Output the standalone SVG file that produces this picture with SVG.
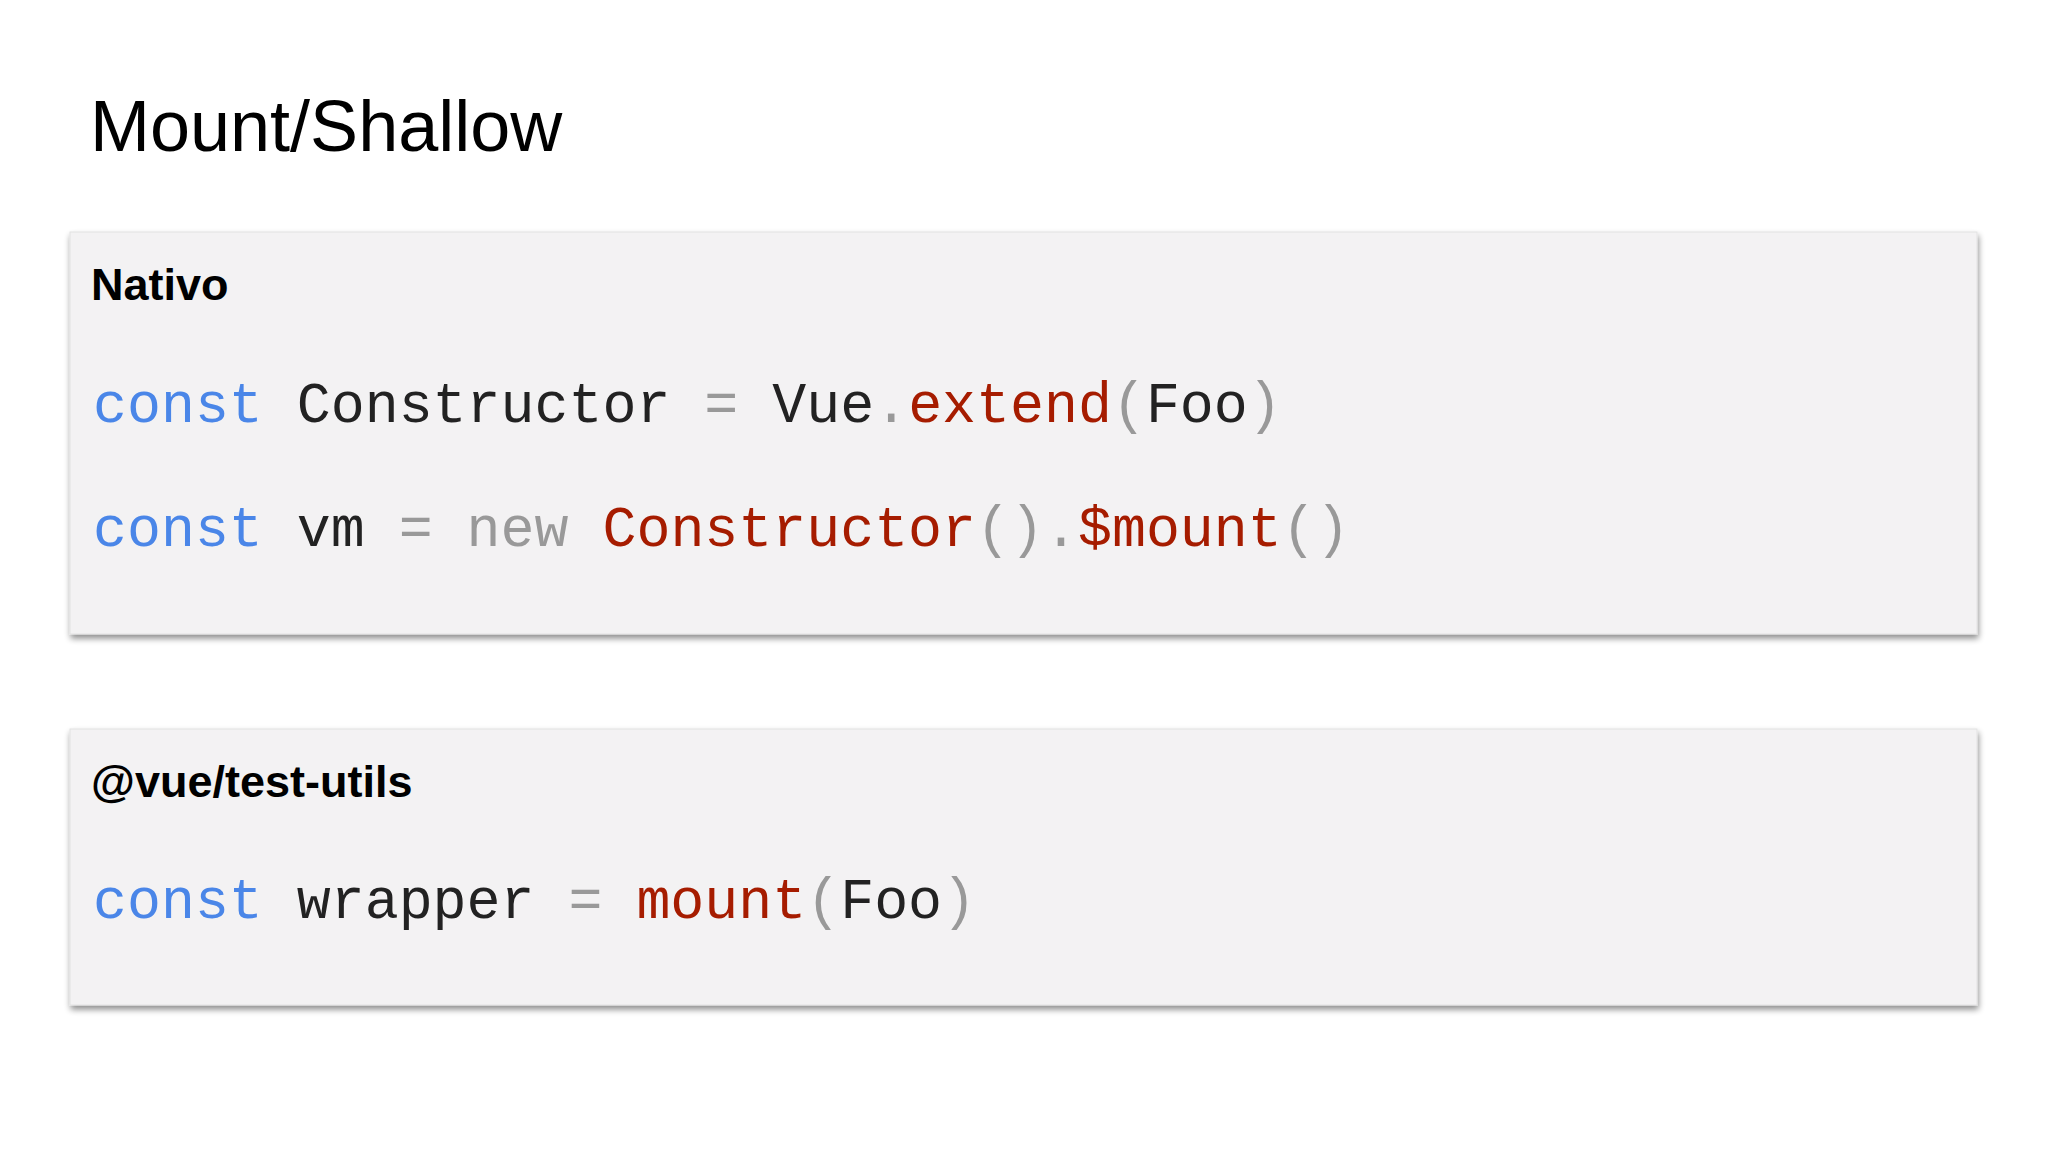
<svg xmlns="http://www.w3.org/2000/svg" width="2048" height="1152" viewBox="0 0 2048 1152">
<defs>
<filter id="sh" x="-5%" y="-5%" width="110%" height="115%">
<feGaussianBlur in="SourceAlpha" stdDeviation="3"/>
<feOffset dx="1" dy="4"/>
<feComponentTransfer><feFuncA type="linear" slope="0.45"/></feComponentTransfer>
<feMerge><feMergeNode/><feMergeNode in="SourceGraphic"/></feMerge>
</filter>
</defs>
<style>
.box{fill:#f3f2f3;stroke:#e2e2e2;stroke-width:1}
.lbl{font-family:"Liberation Sans",Arial,sans-serif;font-weight:bold;font-size:45px;fill:#000}
.code{font-family:"Liberation Mono","Courier New",monospace;font-size:56.6px;fill:#222}
.k{fill:#4a86e8}.g{fill:#999}.r{fill:#a61c00}
</style>
<rect width="2048" height="1152" fill="#fff"/>
<text x="90" y="151" font-family="Liberation Sans,Arial,sans-serif" font-size="72" fill="#000">Mount/Shallow</text>
<g id="nativo">
<rect class="box" x="70" y="232" width="1907" height="402" filter="url(#sh)"/>
<text class="lbl" x="91" y="300">Nativo</text>
<text class="code" x="93" y="422" xml:space="preserve"><tspan class="k">const</tspan> Constructor <tspan class="g">=</tspan> Vue<tspan class="g">.</tspan><tspan class="r">extend</tspan><tspan class="g">(</tspan>Foo<tspan class="g">)</tspan></text>
<text class="code" x="93" y="546" xml:space="preserve"><tspan class="k">const</tspan> vm <tspan class="g">=</tspan> <tspan class="g">new</tspan> <tspan class="r">Constructor</tspan><tspan class="g">()</tspan><tspan class="g">.</tspan><tspan class="r">$mount</tspan><tspan class="g">()</tspan></text>
</g>
<g id="testutils">
<rect class="box" x="70" y="729" width="1907" height="276" filter="url(#sh)"/>
<text class="lbl" x="91" y="797">@vue/test-utils</text>
<text class="code" x="93" y="918" xml:space="preserve"><tspan class="k">const</tspan> wrapper <tspan class="g">=</tspan> <tspan class="r">mount</tspan><tspan class="g">(</tspan>Foo<tspan class="g">)</tspan></text>
</g>
<g id="connectors"/>
</svg>
